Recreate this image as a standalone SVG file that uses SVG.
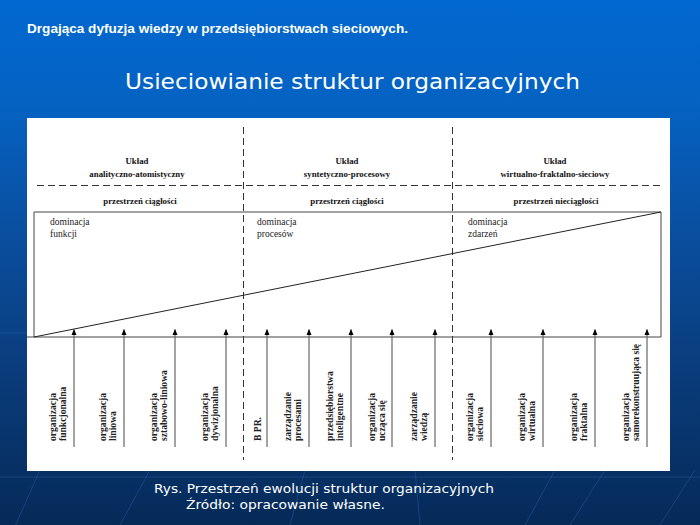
<svg xmlns="http://www.w3.org/2000/svg" width="700" height="525" viewBox="0 0 700 525">
<defs>
<linearGradient id="bg" x1="0" y1="0" x2="0" y2="1">
<stop offset="0" stop-color="#0068d0"/>
<stop offset="0.2" stop-color="#0562c2"/>
<stop offset="0.45" stop-color="#0a4e9e"/>
<stop offset="0.7" stop-color="#0a3d7c"/>
<stop offset="1" stop-color="#052a58"/>
</linearGradient>
<marker id="ah" markerWidth="6" markerHeight="6" viewBox="0 0 6 6" refX="5.5" refY="3" orient="auto" markerUnits="userSpaceOnUse">
<path d="M0,0.5 L6,3 L0,5.5 Z" fill="#000"/>
</marker>
<style>
.t1{font-family:"Liberation Sans",Arial,sans-serif;font-size:13px;font-weight:bold;fill:#fff}
.t2{font-family:"DejaVu Sans",Verdana,sans-serif;font-size:21px;fill:#fff}
.cap{font-family:"DejaVu Sans",Verdana,sans-serif;font-size:12.5px;fill:#fff}
.hd{font-family:"Liberation Serif","Times New Roman",serif;font-size:8.8px;font-weight:bold;fill:#111;text-anchor:middle}
.dm{font-family:"Liberation Serif","Times New Roman",serif;font-size:9.5px;fill:#222}
.rl{font-family:"Liberation Serif","Times New Roman",serif;font-size:9.6px;font-weight:bold;fill:#222}
.dash{stroke:#333;stroke-width:1;stroke-dasharray:7 4;fill:none}
.ln{stroke:#444;stroke-width:1;fill:none}
.ar{stroke:#666;stroke-width:1.2;fill:none;marker-end:url(#ah)}
.ray{stroke:#3a70b8;stroke-width:1;opacity:0.35;fill:none}
</style>
</defs>
<rect x="0" y="0" width="700" height="525" fill="url(#bg)"/>
<g id="rays">
<line class="ray" x1="0" y1="333" x2="27" y2="333"/>
<line class="ray" x1="0" y1="477" x2="700" y2="477"/>
<line class="ray" x1="0" y1="560" x2="40" y2="470"/>
<line class="ray" x1="120" y1="525" x2="150" y2="470"/>
<line class="ray" x1="290" y1="525" x2="305" y2="470"/>
<line class="ray" x1="420" y1="525" x2="415" y2="470"/>
<line class="ray" x1="525" y1="525" x2="555" y2="470"/>
<line class="ray" x1="570" y1="525" x2="605" y2="470"/>
<line class="ray" x1="660" y1="525" x2="695" y2="470"/>
</g>
<text class="t1" x="27" y="33" textLength="381" lengthAdjust="spacingAndGlyphs">Drgająca dyfuzja wiedzy w przedsiębiorstwach sieciowych.</text>
<text class="t2" x="125" y="89" textLength="455" lengthAdjust="spacingAndGlyphs">Usieciowianie struktur organizacyjnych</text>
<rect id="panel" x="27" y="118" width="643" height="353" fill="#fff"/>
<g id="grid">
<line class="dash" x1="243.5" y1="127" x2="243.5" y2="460"/>
<line class="dash" x1="452.5" y1="127" x2="452.5" y2="460"/>
<line class="dash" x1="37" y1="185.5" x2="662" y2="185.5"/>
</g>
<g id="col1">
<text class="hd" x="137" y="164">Układ</text>
<text class="hd" x="137" y="177">analityczno-atomistyczny</text>
<text class="hd" x="140" y="204">przestrzeń ciągłości</text>
</g>
<g id="col2">
<text class="hd" x="347" y="164">Układ</text>
<text class="hd" x="347" y="177">syntetyczno-procesowy</text>
<text class="hd" x="347" y="204">przestrzeń ciągłości</text>
</g>
<g id="col3">
<text class="hd" x="555" y="164">Układ</text>
<text class="hd" x="555" y="177">wirtualno-fraktalno-sieciowy</text>
<text class="hd" x="556" y="204">przestrzeń nieciągłości</text>
</g>
<g id="space">
<path class="ln" d="M34,337 L34,212 L661,212 L661,337 M27,337 L661,337"/>
<line x1="34" y1="337" x2="661" y2="212" stroke="#222" stroke-width="1"/>
<text class="dm" x="50" y="225">dominacja</text>
<text class="dm" x="50" y="237">funkcji</text>
<text class="dm" x="257" y="225">dominacja</text>
<text class="dm" x="257" y="237">procesów</text>
<text class="dm" x="468" y="225">dominacja</text>
<text class="dm" x="468" y="237">zdarzeń</text>
</g>
<g id="connectors">
<line class="ar" x1="74" y1="447" x2="74" y2="329.5"/>
<line class="ar" x1="124" y1="447" x2="124" y2="329.5"/>
<line class="ar" x1="175" y1="447" x2="175" y2="329.5"/>
<line class="ar" x1="226" y1="447" x2="226" y2="329.5"/>
<line class="ar" x1="267" y1="447" x2="267" y2="329.5"/>
<line class="ar" x1="309" y1="447" x2="309" y2="329.5"/>
<line class="ar" x1="351" y1="447" x2="351" y2="329.5"/>
<line class="ar" x1="392" y1="447" x2="392" y2="329.5"/>
<line class="ar" x1="435" y1="447" x2="435" y2="329.5"/>
<line class="ar" x1="491" y1="447" x2="491" y2="329.5"/>
<line class="ar" x1="543" y1="447" x2="543" y2="329.5"/>
<line class="ar" x1="595" y1="447" x2="595" y2="329.5"/>
<line class="ar" x1="647" y1="447" x2="647" y2="329.5"/>
</g>
<g id="n1" class="rl"><text transform="translate(56,441) rotate(-90)">organizacja</text><text transform="translate(66,441) rotate(-90)">funkcjonalna</text></g>
<g id="n2" class="rl"><text transform="translate(106,441) rotate(-90)">organizacja</text><text transform="translate(116,441) rotate(-90)">liniowa</text></g>
<g id="n3" class="rl"><text transform="translate(157,441) rotate(-90)">organizacja</text><text transform="translate(167,441) rotate(-90)">sztabowo-liniowa</text></g>
<g id="n4" class="rl"><text transform="translate(208,441) rotate(-90)">organizacja</text><text transform="translate(218,441) rotate(-90)">dywizjonalna</text></g>
<g id="n5" class="rl"><text transform="translate(261,441) rotate(-90)">B PR.</text></g>
<g id="n6" class="rl"><text transform="translate(291,441) rotate(-90)">zarządzanie</text><text transform="translate(301,441) rotate(-90)">procesami</text></g>
<g id="n7" class="rl"><text transform="translate(333,441) rotate(-90)">przedsiębiorstwa</text><text transform="translate(343,441) rotate(-90)">inteligentne</text></g>
<g id="n8" class="rl"><text transform="translate(375,441) rotate(-90)">organizacja</text><text transform="translate(385,441) rotate(-90)">ucząca się</text></g>
<g id="n9" class="rl"><text transform="translate(417,441) rotate(-90)">zarządzanie</text><text transform="translate(427,441) rotate(-90)">wiedzą</text></g>
<g id="n10" class="rl"><text transform="translate(473,441) rotate(-90)">organizacja</text><text transform="translate(483,441) rotate(-90)">sieciowa</text></g>
<g id="n11" class="rl"><text transform="translate(525,441) rotate(-90)">organizacja</text><text transform="translate(535,441) rotate(-90)">wirtualna</text></g>
<g id="n12" class="rl"><text transform="translate(577,441) rotate(-90)">organizacja</text><text transform="translate(587,441) rotate(-90)">fraktalna</text></g>
<g id="n13" class="rl"><text transform="translate(629,441) rotate(-90)">organizacja</text><text transform="translate(639,441) rotate(-90)">samorekonstruująca się</text></g>
<text class="cap" x="154" y="493" textLength="340" lengthAdjust="spacingAndGlyphs">Rys. Przestrzeń ewolucji struktur organizacyjnych</text>
<text class="cap" x="186" y="509" textLength="199" lengthAdjust="spacingAndGlyphs">Źródło: opracowanie własne.</text>
</svg>
